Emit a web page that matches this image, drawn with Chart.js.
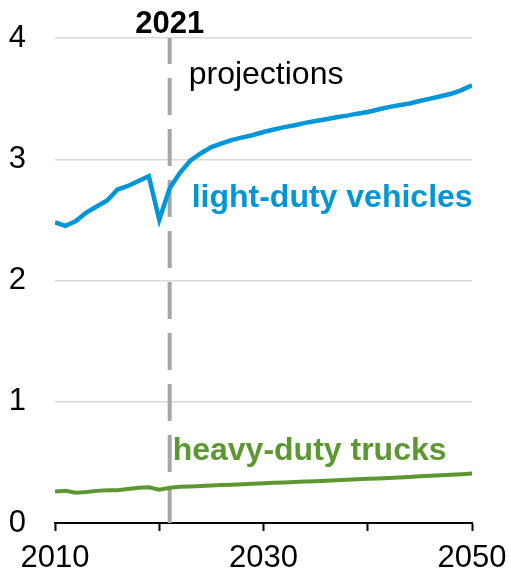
<!DOCTYPE html>
<html>
<head>
<meta charset="utf-8">
<script src="https://cdn.jsdelivr.net/npm/chart.js@4"></script>
<style>
  html, body { margin: 0; padding: 0; background: #fff; }
  #wrap { width: 511px; height: 576px; }
</style>
</head>
<body>
<div id="wrap"><canvas id="chart" width="511" height="576"></canvas></div>
<script>
// 年份與數值 (讀自圖片)
const years = [];
for (let y = 2010; y <= 2050; y++) years.push(y);

const lightDuty = [2.48, 2.45, 2.49, 2.56, 2.61, 2.66, 2.75, 2.78, 2.82, 2.86,
  2.50, 2.76, 2.89, 2.99, 3.05, 3.10, 3.13, 3.16, 3.18, 3.20,
  3.225, 3.245, 3.265, 3.28, 3.30, 3.315, 3.33, 3.346, 3.36, 3.376,
  3.39, 3.41, 3.43, 3.445, 3.46, 3.48, 3.50, 3.52, 3.54, 3.57, 3.61];

const heavyDuty = [0.26, 0.265, 0.25, 0.255, 0.265, 0.27, 0.27, 0.28, 0.29, 0.295,
  0.275, 0.29, 0.298, 0.302, 0.306, 0.31, 0.313, 0.316, 0.32, 0.324,
  0.328, 0.331, 0.334, 0.338, 0.342, 0.345, 0.349, 0.352, 0.356, 0.36,
  0.364, 0.368, 0.372, 0.376, 0.38, 0.385, 0.39, 0.394, 0.398, 0.403, 0.408];

const xTickLabels = ['2010', '', '2030', '', '2050'];
const yTickLabels = ['0', '1', '2', '3', '4'];
const projectionYear = 2021;

const blue = '#0096d7';
const green = '#5d9732';
const font = '"Liberation Sans", Arial, sans-serif';

// 2021 虛線與文字
const annotations = {
  id: 'annotations',
  beforeDatasetsDraw(chart) {
    const ctx = chart.ctx;
    const x = chart.scales.x.getPixelForValue(projectionYear);
    const area = chart.chartArea;
    ctx.save();
    ctx.beginPath();
    ctx.rect(area.left - 10, area.top, area.width + 20, area.height);
    ctx.clip();
    ctx.strokeStyle = '#a6a6a6';
    ctx.lineWidth = 4;
    ctx.setLineDash([37, 14]);
    ctx.beginPath();
    ctx.moveTo(x, area.bottom);
    ctx.lineTo(x, area.top - 20);
    ctx.stroke();
    ctx.restore();
  },
  afterDraw(chart) {
    const ctx = chart.ctx;
    const xs = chart.scales.x;
    const x = xs.getPixelForValue(projectionYear);
    ctx.save();
    ctx.textBaseline = 'alphabetic';
    ctx.fillStyle = '#000';
    ctx.font = 'bold 31px ' + font;
    ctx.textAlign = 'center';
    ctx.fillText('2021', x, 33);
    ctx.textAlign = 'left';
    ctx.font = '32px ' + font;
    ctx.fillText('projections', x + 19, 84);
    ctx.font = 'bold 32px ' + font;
    ctx.fillStyle = blue;
    ctx.fillText('light-duty vehicles', x + 22, 207);
    ctx.fillStyle = green;
    ctx.fillText('heavy-duty trucks', x + 3, 460);
    ctx.restore();
  }
};

new Chart(document.getElementById('chart'), {
  type: 'line',
  data: {
    datasets: [{
      label: 'light-duty vehicles',
      data: years.map((y, i) => ({ x: y, y: lightDuty[i] })),
      borderColor: blue,
      borderWidth: 4.5,
      pointRadius: 0,
      tension: 0,
      fill: false
    }, {
      label: 'heavy-duty trucks',
      data: years.map((y, i) => ({ x: y, y: heavyDuty[i] })),
      borderColor: green,
      borderWidth: 4,
      pointRadius: 0,
      tension: 0,
      fill: false
    }]
  },
  options: {
    responsive: false,
    animation: false,
    events: [],
    layout: { padding: { top: 38, right: 39, bottom: 0, left: 0 } },
    plugins: { legend: { display: false }, tooltip: { enabled: false } },
    scales: {
      x: {
        type: 'linear',
        min: 2010,
        max: 2050,
        afterBuildTicks(scale) {
          scale.ticks = [2010, 2020, 2030, 2040, 2050].map(v => ({ value: v }));
        },
        afterFit(scale) {
          scale.height = 53;
          scale.paddingLeft = 0;
          scale.paddingRight = 0;
        },
        ticks: {
          autoSkip: false,
          maxRotation: 0,
          padding: 9,
          color: '#000',
          font: { family: font, size: 31 },
          callback: (v, i) => xTickLabels[i]
        },
        grid: {
          drawOnChartArea: false,
          drawTicks: true,
          tickLength: 8,
          tickColor: '#000',
          tickWidth: 2
        },
        border: { color: '#000', width: 2 }
      },
      y: {
        min: 0,
        max: 4,
        afterFit(scale) {
          scale.width = 55;
          scale.paddingTop = 0;
          scale.paddingBottom = 0;
        },
        ticks: {
          stepSize: 1,
          padding: 29,
          color: '#000',
          font: { family: font, size: 31 },
          callback: (v) => yTickLabels[v]
        },
        grid: {
          drawTicks: false,
          color: (c) => c.tick.value === 0 ? 'rgba(0,0,0,0)' : '#d9d9d9',
          lineWidth: 1.5
        },
        border: { display: false }
      }
    }
  },
  plugins: [annotations]
});
</script>
</body>
</html>
